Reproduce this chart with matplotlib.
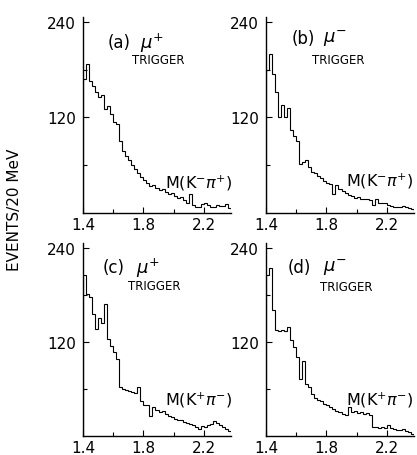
import numpy as np
import matplotlib.pyplot as plt
from matplotlib.ticker import FixedLocator

#------------------------------Datos--------------------------------------------
bordes = 1.4 + 0.02*np.arange(50)   # bins de 20 MeV, 1.40 - 2.38 GeV

eventos_a = [168, 187, 166, 160, 152, 145, 148, 130, 134, 124, 114, 112, 90, 78,
             72, 66, 60, 55, 50, 45, 42, 38, 34, 35, 31, 29, 30, 26, 24, 25, 21,
             19, 20, 16, 12, 24, 10, 7, 8, 11, 12, 10, 7, 8, 10, 9, 9, 11, 6]
eventos_b = [180, 199, 175, 152, 120, 136, 120, 132, 104, 97, 90, 62, 64, 67,
             58, 52, 50, 46, 44, 40, 38, 36, 24, 35, 30, 28, 25, 22, 21, 19, 20,
             18, 17, 17, 16, 10, 17, 13, 12, 13, 10, 9, 8, 8, 7, 9, 7, 6, 5]
eventos_c = [205, 181, 177, 155, 137, 150, 144, 168, 124, 115, 107, 98, 62, 60,
             58, 57, 56, 55, 62, 44, 40, 40, 26, 37, 33, 31, 32, 28, 25, 24, 22,
             21, 20, 18, 16, 15, 14, 12, 9, 13, 12, 14, 15, 19, 16, 14, 12, 9, 7]
eventos_d = [205, 214, 160, 135, 134, 135, 134, 139, 122, 113, 101, 73, 95, 66,
             62, 53, 49, 46, 44, 41, 39, 37, 34, 32, 30, 28, 27, 37, 30, 32, 29,
             31, 28, 29, 27, 12, 11, 10, 11, 10, 14, 10, 9, 8, 8, 9, 6, 5, 3]

etiquetas = ['(a)', '(b)', '(c)', '(d)']
muones = [r'$\mu^{+}$', r'$\mu^{-}$', r'$\mu^{+}$', r'$\mu^{-}$']
masas = [r'M(K$^{-}\pi^{+}$)', r'M(K$^{-}\pi^{+}$)',
         r'M(K$^{+}\pi^{-}$)', r'M(K$^{+}\pi^{-}$)']
#-------------------------------------------------------------------------------

W, H = 417, 456
fig = plt.figure(figsize=(W/100, H/100), dpi=100)

def px(x, y):
    return x/W, 1 - y/H

# posiciones de los paneles en pixeles: (izq, eje x, alto)
paneles = [(83, 214, 196), (266, 214, 196), (83, 437, 193), (266, 437, 193)]
textos = [((108, 43), (140, 43), (132, 60), (233, 183)),
          ((292, 39), (323, 39), (312, 60), (414, 181)),
          ((103, 268), (136, 268), (128, 287), (233, 400)),
          ((288, 268), (323, 268), (320, 288), (414, 400))]
datos = [eventos_a, eventos_b, eventos_c, eventos_d]

for i in range(4):
    x0, yb, h = paneles[i]
    l, b = px(x0, yb)
    ax = fig.add_axes([l, b, 148/W, h/H])
    ax.stairs(datos[i], bordes, baseline=0, color='black', lw=0.8)
    ax.set_xlim(1.4, 2.38)
    ax.set_ylim(0, 246)
    for s in ['top', 'right']:
        ax.spines[s].set_visible(False)
    for s in ['left', 'bottom']:
        ax.spines[s].set_linewidth(1.0)
    ax.xaxis.set_major_locator(FixedLocator([1.4, 1.8, 2.2]))
    ax.xaxis.set_minor_locator(FixedLocator([1.6, 2.0]))
    ax.yaxis.set_major_locator(FixedLocator([120, 240]))
    ax.yaxis.set_minor_locator(FixedLocator([60, 180]))
    ax.set_xticklabels(['1.4', '1.8', '2.2'])
    ax.set_yticklabels(['120', '240'])
    ax.tick_params(which='both', direction='in', labelsize=11, width=0.8)
    ax.tick_params(which='major', length=4, pad=3)
    ax.tick_params(axis='y', which='major', pad=5)
    ax.tick_params(which='minor', length=3)
    ax.set_facecolor('none')

    (pa, pm, pt, pM) = textos[i]
    fig.text(*px(*pa), etiquetas[i], fontsize=12, va='center', ha='left')
    fig.text(*px(*pm), muones[i], fontsize=13, va='center', ha='left')
    fig.text(*px(*pt), 'TRIGGER', fontsize=8.5, va='center', ha='left')
    fig.text(*px(*pM), masas[i], fontsize=11.5, va='center', ha='right')

fig.text(*px(15, 210), 'EVENTS/20 MeV', fontsize=11, rotation=90,
         va='center', ha='center')

fig.savefig('out.png', dpi=100)
